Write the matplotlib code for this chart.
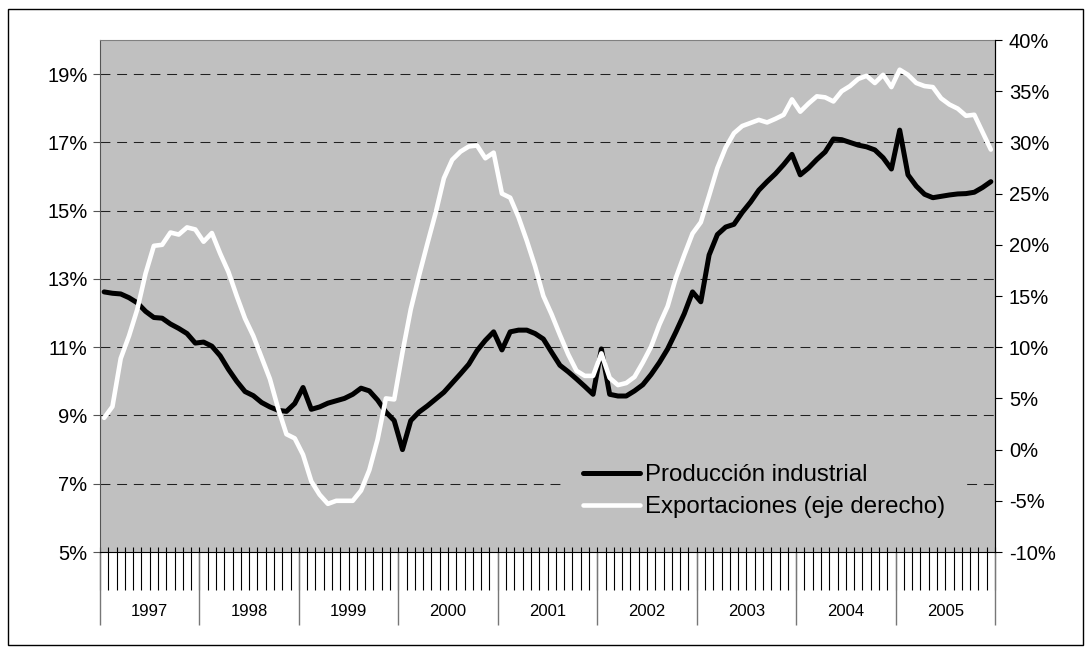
import numpy as np
import matplotlib.pyplot as plt
from matplotlib.patches import Rectangle

plt.rcParams['font.family'] = ['Liberation Sans', 'DejaVu Sans']

years = ['1997', '1998', '1999', '2000', '2001', '2002', '2003', '2004', '2005']

# Producción industrial (%), monthly, left axis
prod = [12.62, 12.58, 12.56, 12.45, 12.30, 12.05, 11.87, 11.85, 11.68, 11.55, 11.40, 11.12,
        11.15, 11.03, 10.75, 10.35, 10.00, 9.70, 9.58, 9.38, 9.25, 9.15, 9.12, 9.35,
        9.82, 9.18, 9.25, 9.36, 9.43, 9.50, 9.62, 9.80, 9.72, 9.45, 9.10, 8.85,
        8.00, 8.85, 9.10, 9.28, 9.48, 9.68, 9.95, 10.22, 10.50, 10.90, 11.20, 11.45,
        10.92, 11.45, 11.50, 11.50, 11.40, 11.24, 10.85, 10.47, 10.28, 10.07, 9.85, 9.62,
        10.95, 9.62, 9.57, 9.57, 9.72, 9.90, 10.20, 10.55, 10.95, 11.45, 11.98, 12.62,
        12.33, 13.70, 14.30, 14.52, 14.60, 14.95, 15.25, 15.60, 15.85, 16.08, 16.35, 16.65,
        16.05, 16.25, 16.50, 16.72, 17.10, 17.08, 17.00, 16.92, 16.87, 16.78, 16.55, 16.22,
        17.36, 16.05, 15.72, 15.48, 15.38, 15.42, 15.46, 15.49, 15.50, 15.54, 15.68, 15.85]

# Exportaciones (%), monthly, right axis
expo = [3.1, 4.2, 8.9, 11.1, 13.7, 17.2, 19.9, 20.0, 21.2, 21.0, 21.7, 21.5,
        20.3, 21.15, 19.15, 17.35, 15.0, 12.8, 11.1, 9.0, 6.9, 4.0, 1.5, 1.1,
        -0.5, -3.1, -4.4, -5.3, -5.0, -5.0, -5.0, -4.0, -2.0, 1.0, 5.0, 4.9,
        9.5, 13.7, 17.0, 20.1, 23.1, 26.5, 28.3, 29.1, 29.6, 29.7, 28.45, 29.0,
        25.0, 24.6, 22.7, 20.4, 17.9, 15.0, 13.2, 11.2, 9.3, 7.7, 7.2, 7.2,
        9.4, 7.0, 6.3, 6.5, 7.1, 8.5, 10.05, 12.2, 14.0, 16.8, 19.0, 21.1,
        22.2, 24.8, 27.5, 29.5, 30.9, 31.6, 31.9, 32.2, 31.95, 32.3, 32.7, 34.2,
        33.0, 33.8, 34.5, 34.4, 34.0, 35.0, 35.5, 36.2, 36.5, 35.8, 36.6, 35.4,
        37.1, 36.6, 35.8, 35.5, 35.4, 34.3, 33.7, 33.3, 32.6, 32.7, 31.0, 29.3]

left_ticks = [5, 7, 9, 11, 13, 15, 17, 19]
right_ticks = [-10, -5, 0, 5, 10, 15, 20, 25, 30, 35, 40]

n = len(prod)
x = np.arange(n) + 0.5

fig = plt.figure(figsize=(10.92, 6.54), dpi=100)
fig.patches.append(Rectangle((8 / 1092, 9 / 654), 1075 / 1092, 636 / 654,
                             transform=fig.transFigure, fill=False,
                             edgecolor='black', linewidth=1.0))

ax = fig.add_axes([100 / 1092, 1 - 552 / 654, 895 / 1092, 512 / 654])
ax.set_facecolor('#C0C0C0')
ax.set_xlim(0, n)
ax.set_ylim(5, 20)
ax.set_yticks(left_ticks)
ax.set_yticklabels([f'{v}%' for v in left_ticks])
ax.yaxis.grid(True, color='#202020', linewidth=0.75, linestyle=(0, (9.5, 6.5)))
ax.set_axisbelow(True)
ax.tick_params(axis='y', direction='out', length=5, width=0.8, labelsize=14.5, pad=4,
               color='#555555')
ax.set_xticks([])

ax.spines['left'].set_color('#555555')
ax.spines['top'].set_color('#808080')
ax.spines['bottom'].set_color('black')

# month tick lines and year separators below the axis
xt = ax.get_xaxis_transform()
bounds = np.arange(n + 1)
ax.vlines(bounds, -38 / 512, 5 / 512, transform=xt, colors='black', linewidth=0.8, clip_on=False)
ax.vlines(bounds[::12], -73 / 512, 0, transform=xt, colors='#777777', linewidth=1.0, clip_on=False)
for k, yr in enumerate(years):
    ax.text(12 * k + 6, -60 / 512, yr, transform=xt, ha='center', va='center', fontsize=12)

l1, = ax.plot(x, prod, color='black', linewidth=3.6, solid_capstyle='round',
              solid_joinstyle='round', label='Producción industrial')

ax2 = ax.twinx()
ax2.set_ylim(-10, 40)
ax2.set_yticks(right_ticks)
ax2.set_yticklabels([f'{v}%' for v in right_ticks])
ax2.tick_params(axis='y', direction='out', length=5, width=0.8, labelsize=14.5, pad=5)
ax2.spines['right'].set_color('black')
ax2.spines['top'].set_visible(False)
ax2.spines['left'].set_visible(False)
ax2.spines['bottom'].set_visible(False)
l2, = ax2.plot(x, expo, color='white', linewidth=3.3, solid_capstyle='round',
               solid_joinstyle='round', label='Exportaciones (eje derecho)')

leg = ax2.legend(handles=[l1, l2], loc='center', bbox_to_anchor=(0.742, 0.119),
                 fontsize=17.3, frameon=True, facecolor='#C0C0C0', edgecolor='none',
                 framealpha=1, fancybox=False, handlelength=2.4, handletextpad=0.2,
                 labelspacing=0.42, borderpad=0.8)

fig.savefig('out.png', dpi=100)
